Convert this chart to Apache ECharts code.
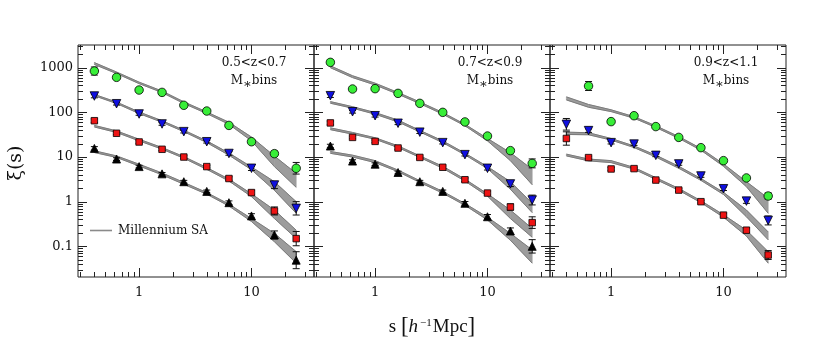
<!DOCTYPE html>
<html>
<head>
<meta charset="utf-8">
<script src="https://cdn.jsdelivr.net/npm/echarts@6.0.0/dist/echarts.min.js"></script>
<style>
  html, body { margin: 0; padding: 0; background: #fff; }
  #container { width: 830px; height: 344px; }
</style>
</head>
<body>
<div id="container"></div>
<script>
// separation bins (h^-1 Mpc)
const s = [0.4, 0.63, 1.0, 1.6, 2.5, 4.0, 6.3, 10, 16, 25];

// panel 1: 0.5<z<0.7
const p1Green = [841, 608, 316, 280, 144, 107, 51, 22, 11.9, 5.6];
const p1Blue = [232, 156, 92, 55, 37, 22, 12, 5.6, 2.36, 0.71];
const p1Red = [65, 34, 21.7, 14.9, 10, 6.1, 3.3, 1.6, 0.62, 0.149];
const p1Black = [15.6, 9.0, 6.1, 4.2, 2.8, 1.7, 0.95, 0.48, 0.18, 0.049];
// error half-widths in dex
const p1GreenErr = [0.09, 0.03, 0.03, 0.03, 0.03, 0.03, 0.03, 0.04, 0.06, 0.13];
const p1BlueErr = [0.04, 0.03, 0.03, 0.03, 0.03, 0.03, 0.04, 0.05, 0.08, 0.15];
const p1RedErr = [0.04, 0.03, 0.03, 0.03, 0.03, 0.03, 0.04, 0.05, 0.09, 0.16];
const p1BlackErr = [0.04, 0.03, 0.03, 0.03, 0.03, 0.03, 0.04, 0.05, 0.09, 0.19];
// Millennium SA model bands
const p1GreenLo = [1180, 740, 440, 278, 158, 94, 54, 23, 6.1, 2.1];
const p1GreenHi = [1300, 800, 475, 300, 172, 102, 60, 28, 10.5, 4.3];
const p1BlueLo = [235, 158, 94, 60, 37, 21, 11, 5.2, 1.8, 0.55];
const p1BlueHi = [252, 170, 102, 65, 40, 23, 12.3, 6.0, 2.8, 1.0];
const p1RedLo = [47, 35.5, 23, 15, 9.4, 5.3, 2.9, 1.3, 0.42, 0.15];
const p1RedHi = [51, 38.5, 25, 16.3, 10.2, 5.8, 3.2, 1.5, 0.65, 0.23];
const p1BlackLo = [12.6, 9.8, 6.3, 4.0, 2.45, 1.47, 0.8, 0.36, 0.127, 0.042];
const p1BlackHi = [13.8, 10.6, 6.9, 4.4, 2.7, 1.6, 0.88, 0.42, 0.195, 0.076];

// panel 2: 0.7<z<0.9
const p2Green = [1316, 333, 339, 266, 159, 100, 61, 29.5, 13.9, 7.2];
const p2Blue = [236, 103, 84, 57, 36, 21, 11.3, 5.6, 2.5, 1.09];
const p2Red = [58, 27.5, 22.4, 15.9, 9.8, 5.9, 3.1, 1.56, 0.76, 0.34];
const p2Black = [17.6, 8.1, 6.9, 4.5, 2.8, 1.7, 0.92, 0.46, 0.22, 0.10];
const p2GreenErr = [0.05, 0.03, 0.03, 0.03, 0.03, 0.03, 0.03, 0.04, 0.05, 0.1];
const p2BlueErr = [0.04, 0.03, 0.03, 0.03, 0.03, 0.03, 0.03, 0.04, 0.06, 0.11];
const p2RedErr = [0.04, 0.03, 0.03, 0.03, 0.03, 0.03, 0.04, 0.04, 0.07, 0.13];
const p2BlackErr = [0.04, 0.03, 0.03, 0.03, 0.03, 0.03, 0.04, 0.05, 0.07, 0.15];
const p2GreenLo = [1000, 600, 410, 255, 157, 91, 50, 23, 8.3, 2.4];
const p2GreenHi = [1100, 660, 450, 278, 171, 99, 54, 26, 12.5, 5.3];
const p2BlueLo = [160, 124, 91, 61, 36.5, 21, 11.2, 5.5, 1.9, 0.57];
const p2BlueHi = [174, 134, 99, 67, 39.5, 23, 12.2, 6.1, 2.8, 0.92];
const p2RedLo = [41, 32.5, 25, 16.3, 9.8, 5.6, 2.9, 1.33, 0.42, 0.16];
const p2RedHi = [45, 35.5, 27, 17.8, 10.6, 6.2, 3.2, 1.5, 0.65, 0.25];
const p2BlackLo = [12.1, 10.0, 7.5, 4.7, 2.7, 1.55, 0.83, 0.39, 0.137, 0.042];
const p2BlackHi = [13.3, 11.0, 8.3, 5.1, 2.95, 1.7, 0.91, 0.45, 0.195, 0.083];

// panel 3: 0.9<z<1.1 (no black bin)
const p3Green = [null, 389, 62, 84, 48, 27.5, 16.2, 8.3, 3.4, 1.34];
const p3Blue = [54, 39, 21, 19.5, 10.9, 7.0, 3.76, 1.95, 1.03, 0.38];
const p3Red = [26, 9.7, 5.4, 5.5, 3.05, 1.82, 1.0, 0.50, 0.23, 0.064];
const p3GreenErr = [0, 0.1, 0.03, 0.03, 0.03, 0.03, 0.03, 0.03, 0.04, 0.07];
const p3BlueErr = [0.13, 0.04, 0.03, 0.03, 0.03, 0.03, 0.03, 0.04, 0.05, 0.1];
const p3RedErr = [0.15, 0.03, 0.03, 0.03, 0.03, 0.03, 0.03, 0.04, 0.05, 0.1];
const p3GreenLo = [190, 130, 104, 74, 46, 26.3, 14.2, 6.2, 2.17, 0.55];
const p3GreenHi = [222, 150, 114, 80, 50, 28.7, 15.6, 7.0, 2.8, 1.19];
const p3BlueLo = [32, 31.5, 24, 16.3, 10.0, 5.6, 3.0, 1.45, 0.46, 0.14];
const p3BlueHi = [36, 35, 26, 17.7, 11.0, 6.2, 3.3, 1.62, 0.65, 0.21];
const p3RedLo = [10.6, 8.2, 7.5, 5.35, 3.15, 1.8, 0.95, 0.45, 0.17, 0.042];
const p3RedHi = [11.6, 9.0, 8.3, 5.85, 3.45, 1.98, 1.05, 0.51, 0.23, 0.076];

const panelLabels = ['0.5<z<0.7', '0.7<z<0.9', '0.9<z<1.1'];

// axis ticks
const xTickLabels = ['1', '10'];
const yTickLabels = ['0.1', '1', '10', '100', '1000'];
const xMajor = [1, 10];
const xMinor = [0.3, 0.4, 0.5, 0.6, 0.7, 0.8, 0.9, 2, 3, 4, 5, 6, 7, 8, 9, 20, 30];
const yMajor = [0.1, 1, 10, 100, 1000];
const yMinor = [0.03, 0.04, 0.05, 0.06, 0.07, 0.08, 0.09,
  0.2, 0.3, 0.4, 0.5, 0.6, 0.7, 0.8, 0.9,
  2, 3, 4, 5, 6, 7, 8, 9, 20, 30, 40, 50, 60, 70, 80, 90,
  200, 300, 400, 500, 600, 700, 800, 900, 2000, 3000];

const X_MIN = 0.286, X_MAX = 36;
const Y_MIN = 0.0206, Y_MAX = 3220;

const FONT = "'DejaVu Serif', 'Liberation Serif', serif";

const styles = {
  green: { symbol: 'circle', size: 8.5, color: '#38ee38', rotate: 0 },
  blue: { symbol: 'triangle', size: 8.5, color: '#1010e0', rotate: 180 },
  red: { symbol: 'rect', size: 6.5, color: '#ee1414', rotate: 0 },
  black: { symbol: 'triangle', size: 8, color: '#000000', rotate: 0 }
};

const panels = [
  {
    bins: [
      ['green', p1Green, p1GreenErr, p1GreenLo, p1GreenHi],
      ['blue', p1Blue, p1BlueErr, p1BlueLo, p1BlueHi],
      ['red', p1Red, p1RedErr, p1RedLo, p1RedHi],
      ['black', p1Black, p1BlackErr, p1BlackLo, p1BlackHi]
    ]
  },
  {
    bins: [
      ['green', p2Green, p2GreenErr, p2GreenLo, p2GreenHi],
      ['blue', p2Blue, p2BlueErr, p2BlueLo, p2BlueHi],
      ['red', p2Red, p2RedErr, p2RedLo, p2RedHi],
      ['black', p2Black, p2BlackErr, p2BlackLo, p2BlackHi]
    ]
  },
  {
    bins: [
      ['green', p3Green, p3GreenErr, p3GreenLo, p3GreenHi],
      ['blue', p3Blue, p3BlueErr, p3BlueLo, p3BlueHi],
      ['red', p3Red, p3RedErr, p3RedLo, p3RedHi]
    ]
  }
];

function fmt(v) {
  return String(Number(v.toPrecision(6)));
}

function bandSeries(gi, lo, hi) {
  const data = [];
  for (let i = 0; i < s.length - 1; i++) {
    data.push([s[i], lo[i], hi[i], s[i + 1], lo[i + 1], hi[i + 1]]);
  }
  return {
    type: 'custom',
    xAxisIndex: gi,
    yAxisIndex: gi,
    silent: true,
    z: 2,
    encode: { x: [0, 3], y: [1, 2, 4, 5] },
    data: data,
    renderItem: function (params, api) {
      const a = api.coord([api.value(0), api.value(1)]);
      const b = api.coord([api.value(3), api.value(4)]);
      const c = api.coord([api.value(3), api.value(5)]);
      const d = api.coord([api.value(0), api.value(2)]);
      return {
        type: 'group',
        children: [
          { type: 'polygon', shape: { points: [a, b, c, d] },
            style: { fill: '#9c9c9c', stroke: '#9c9c9c', lineWidth: 0.6 } },
          { type: 'line', shape: { x1: a[0], y1: a[1], x2: b[0], y2: b[1] },
            style: { stroke: '#7a7a7a', lineWidth: 1 } },
          { type: 'line', shape: { x1: d[0], y1: d[1], x2: c[0], y2: c[1] },
            style: { stroke: '#7a7a7a', lineWidth: 1 } }
        ]
      };
    }
  };
}

function errSeries(gi, ys, errs) {
  const data = [];
  ys.forEach(function (y, i) {
    if (y != null) data.push([s[i], y, errs[i]]);
  });
  return {
    type: 'custom',
    xAxisIndex: gi,
    yAxisIndex: gi,
    silent: true,
    z: 3,
    encode: { x: 0, y: 1 },
    data: data,
    renderItem: function (params, api) {
      const x = api.value(0), y = api.value(1), e = api.value(2);
      const top = api.coord([x, y * Math.pow(10, e)]);
      const bot = api.coord([x, y / Math.pow(10, e)]);
      const st = { stroke: '#111', lineWidth: 1 };
      return {
        type: 'group',
        children: [
          { type: 'line', shape: { x1: top[0], y1: top[1], x2: bot[0], y2: bot[1] }, style: st },
          { type: 'line', shape: { x1: top[0] - 3.5, y1: top[1], x2: top[0] + 3.5, y2: top[1] }, style: st },
          { type: 'line', shape: { x1: bot[0] - 3.5, y1: bot[1], x2: bot[0] + 3.5, y2: bot[1] }, style: st }
        ]
      };
    }
  };
}

function pointSeries(gi, key, ys) {
  const st = styles[key];
  return {
    type: 'scatter',
    xAxisIndex: gi,
    yAxisIndex: gi,
    z: 4,
    symbol: st.symbol,
    symbolSize: st.size,
    symbolRotate: st.rotate,
    itemStyle: { color: st.color, borderColor: '#000', borderWidth: 0.8, opacity: 1 },
    data: s.map(function (x, i) { return ys[i] == null ? null : [x, ys[i]]; }).filter(function (p) { return p; })
  };
}

function tickSeries(gi) {
  const data = [];
  xMajor.forEach(function (v) { data.push([v, Y_MIN, 0, 1]); });
  xMinor.forEach(function (v) { data.push([v, Y_MIN, 0, 0]); });
  yMajor.forEach(function (v) { data.push([X_MIN, v, 1, 1]); });
  yMinor.forEach(function (v) { data.push([X_MIN, v, 1, 0]); });
  return {
    type: 'custom',
    xAxisIndex: gi,
    yAxisIndex: gi,
    silent: true,
    z: 5,
    encode: { x: 0, y: 1 },
    data: data,
    renderItem: function (params, api) {
      const cs = params.coordSys;
      const p = api.coord([api.value(0), api.value(1)]);
      const isY = api.value(2) === 1;
      const len = api.value(3) === 1 ? 9 : 5;
      const st = { stroke: '#222', lineWidth: 1 };
      if (!isY) {
        const x = Math.round(p[0]) + 0.5;
        return {
          type: 'group',
          children: [
            { type: 'line', shape: { x1: x, y1: cs.y + cs.height, x2: x, y2: cs.y + cs.height - len }, style: st },
            { type: 'line', shape: { x1: x, y1: cs.y, x2: x, y2: cs.y + len }, style: st }
          ]
        };
      }
      const y = Math.round(p[1]) + 0.5;
      return {
        type: 'group',
        children: [
          { type: 'line', shape: { x1: cs.x, y1: y, x2: cs.x + len, y2: y }, style: st },
          { type: 'line', shape: { x1: cs.x + cs.width, y1: y, x2: cs.x + cs.width - len, y2: y }, style: st }
        ]
      };
    }
  };
}

const gridLeft = [78, 314, 550];
const grids = [], xAxes = [], yAxes = [], series = [];

panels.forEach(function (panel, gi) {
  grids.push({
    left: gridLeft[gi], top: 45, width: 236, height: 232,
    show: true, borderColor: '#222', borderWidth: 1, backgroundColor: 'transparent'
  });
  xAxes.push({
    type: 'log', gridIndex: gi, min: X_MIN, max: X_MAX,
    axisLine: { show: false }, axisTick: { show: false }, splitLine: { show: false },
    axisLabel: {
      margin: 9, fontFamily: FONT, fontSize: 13, color: '#111',
      formatter: function (v) { const t = fmt(v); return xTickLabels.indexOf(t) >= 0 ? t : ''; }
    }
  });
  yAxes.push({
    type: 'log', gridIndex: gi, min: Y_MIN, max: Y_MAX,
    axisLine: { show: false }, axisTick: { show: false }, splitLine: { show: false },
    axisLabel: {
      show: gi === 0, margin: 5, fontFamily: FONT, fontSize: 13, color: '#111',
      formatter: function (v) { const t = fmt(v); return yTickLabels.indexOf(t) >= 0 ? t : ''; }
    }
  });
  panel.bins.forEach(function (b) { series.push(bandSeries(gi, b[3], b[4])); });
  panel.bins.forEach(function (b) { series.push(errSeries(gi, b[1], b[2])); });
  panel.bins.forEach(function (b) { series.push(pointSeries(gi, b[0], b[1])); });
  series.push(tickSeries(gi));
});

const textCenters = [254, 490, 726];
const graphics = [];
panelLabels.forEach(function (label, i) {
  graphics.push({
    type: 'text', x: textCenters[i], y: 63,
    style: { text: label, font: '12px ' + FONT, fill: '#111', align: 'center', verticalAlign: 'middle' }
  });
  graphics.push({
    type: 'text', x: textCenters[i], y: 81,
    style: {
      text: '{n|M}{a|∗}{n|bins}', align: 'center', verticalAlign: 'middle',
      rich: {
        n: { fontFamily: FONT, fontSize: 12, fill: '#111' },
        a: { fontFamily: FONT, fontSize: 13, fill: '#111', padding: [8, 0, 0, 0] }
      }
    }
  });
});
// legend for the model
graphics.push({
  type: 'line', shape: { x1: 90, y1: 230.5, x2: 112, y2: 230.5 },
  style: { stroke: '#8a8a8a', lineWidth: 1.6 }
});
graphics.push({
  type: 'text', x: 118, y: 231,
  style: { text: 'Millennium SA', font: '12px ' + FONT, fill: '#111', align: 'left', verticalAlign: 'middle' }
});
// axis titles
graphics.push({
  type: 'text', x: 16, y: 163, rotation: Math.PI / 2,
  style: { text: 'ξ(s)', font: '19px ' + FONT, fill: '#111', align: 'center', verticalAlign: 'middle' }
});
graphics.push({
  type: 'text', x: 432, y: 327,
  style: {
    text: '{t|s }{b|[}{i|h}{u|−1}{t|Mpc}{b|]}', align: 'center', verticalAlign: 'middle',
    rich: {
      t: { fontFamily: "'Liberation Serif', serif", fontSize: 19, fill: '#111' },
      b: { fontFamily: "'Liberation Serif', serif", fontSize: 23, fill: '#111' },
      i: { fontFamily: "'Liberation Serif', serif", fontStyle: 'italic', fontSize: 19, fill: '#111' },
      u: { fontFamily: "'Liberation Serif', serif", fontSize: 11, fill: '#111', padding: [0, 1, 8, 2] }
    }
  }
});

let dom = document.getElementById('container');
let myChart = echarts.init(dom, null, { renderer: 'canvas' });

const option = {
  animation: false,
  backgroundColor: '#fff',
  grid: grids,
  xAxis: xAxes,
  yAxis: yAxes,
  series: series,
  graphic: graphics
};

myChart.setOption(option);
</script>
</body>
</html>
